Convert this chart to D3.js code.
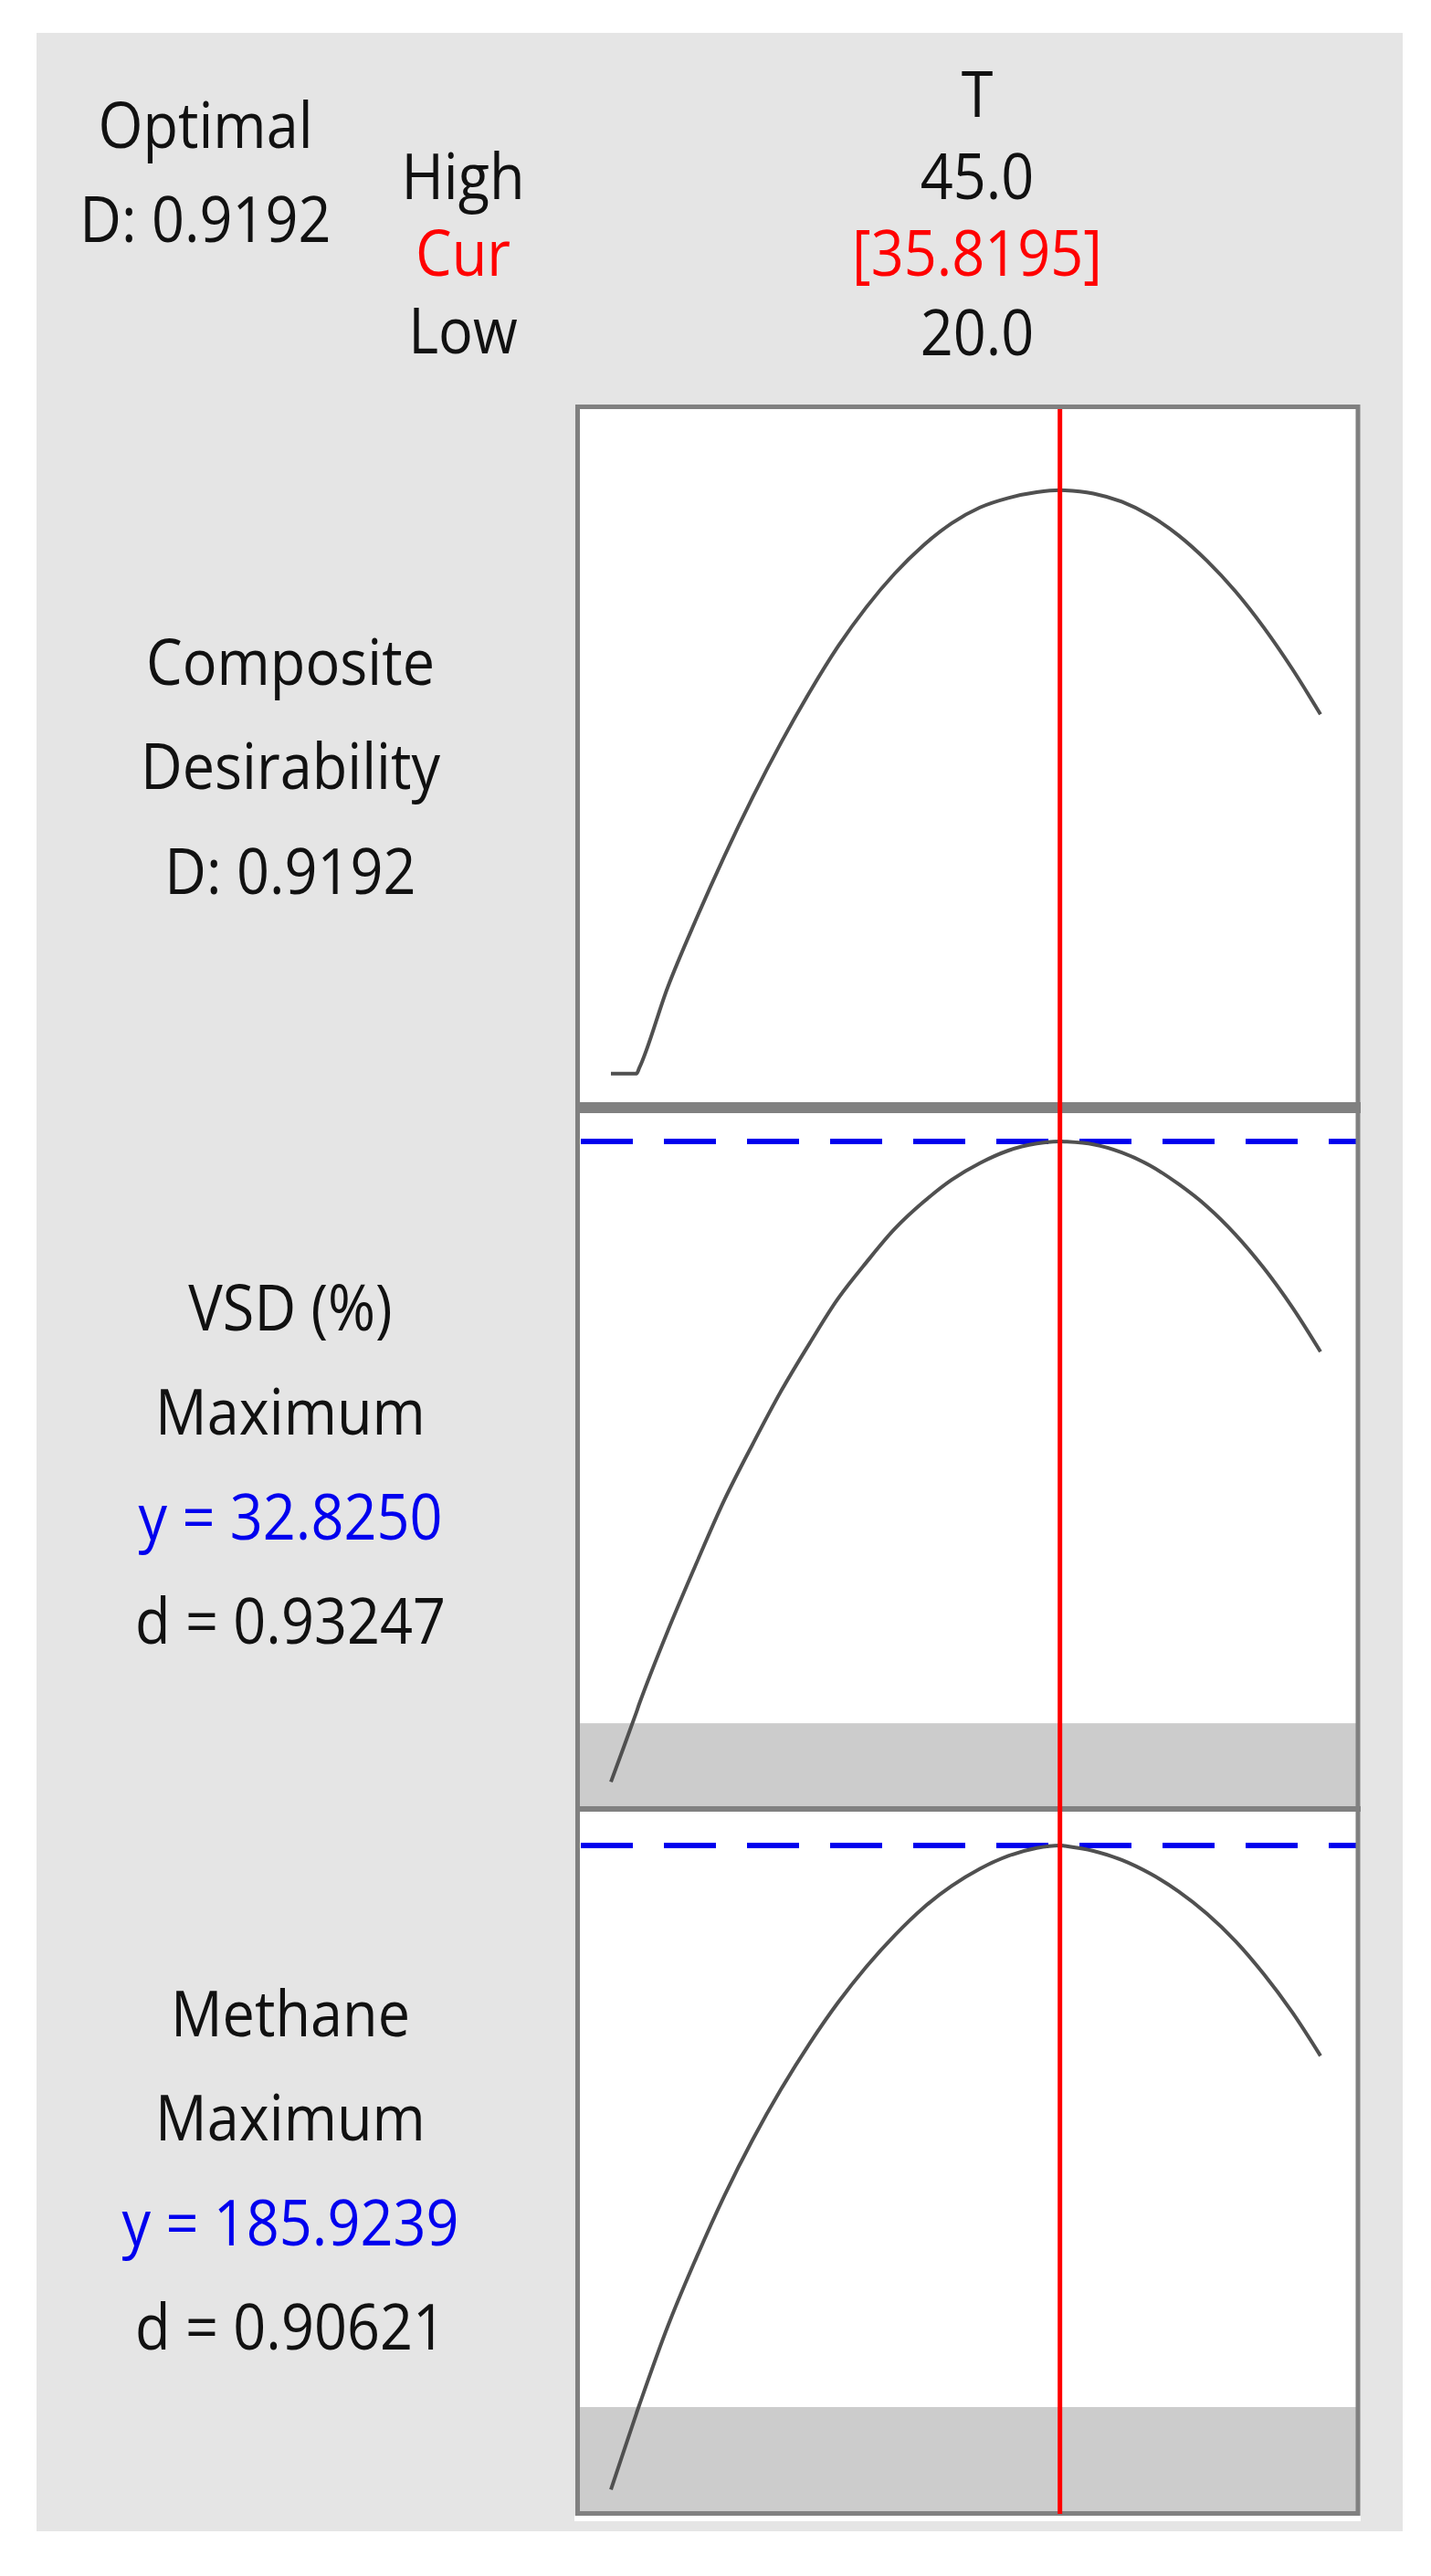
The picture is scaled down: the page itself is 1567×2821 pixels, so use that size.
<!DOCTYPE html>
<html>
<head>
<meta charset="utf-8">
<script src="https://cdn.jsdelivr.net/npm/d3@7"></script>
<style>
  html, body { margin: 0; padding: 0; background: #fff; }
  svg { display: block; }
</style>
</head>
<body>
<svg id="chart" width="1567" height="2821"></svg>
<script>
'use strict';

// factor settings
var factorName = 'T';
var factorHigh = 45.0;
var factorLow = 20.0;
var factorCur = 35.8195;
var optimalD = 0.9192;

var tValues = [20, 20.9, 21, 22, 23, 24, 25, 26, 27, 28, 29, 30, 31, 32, 33, 34, 35,
    35.8195, 36, 37, 38, 39, 40, 41, 42, 43, 44, 45];

var compositeD = [0, 0, 0.009, 0.136, 0.243, 0.343, 0.436, 0.522, 0.601, 0.673, 0.735,
    0.788, 0.832, 0.867, 0.892, 0.907, 0.916, 0.9192, 0.919, 0.914, 0.901, 0.879, 0.848,
    0.808, 0.760, 0.703, 0.638, 0.566];

var vsd = [9.9, 12.4, 12.7, 15.3, 17.7, 20.0, 22.0, 23.9, 25.6, 27.2, 28.5, 29.7, 30.65,
    31.45, 32.05, 32.5, 32.75, 32.825, 32.82, 32.72, 32.43, 31.96, 31.3, 30.5, 29.5, 28.3,
    26.9, 25.3];

var methane = [30.0, 48.5, 50.5, 69.5, 86.0, 101.2, 114.8, 127.0, 138.0, 147.9, 156.6,
    164.2, 170.8, 176.1, 180.3, 183.4, 185.3, 185.9239, 185.8, 184.6, 182.4, 179.1, 174.8,
    169.4, 162.8, 154.8, 145.6, 135.0];

// one entry per row of the optimization plot
var rowTitles = [['Composite', 'Desirability'], ['VSD (%)', 'Maximum'], ['Methane', 'Maximum']];
var rowSeries = [compositeD, vsd, methane];
var rowPredicted = [null, 32.8250, 185.9239];
var rowDesirability = [0.9192, 0.93247, 0.90621];
var rowLowerBound = [null, 12, 50];
var rowDomains = [[-0.045, 1.047], [9.03, 33.84], [24.8, 194.1]];

var fontFamily = '"Open Sans", "Noto Sans", sans-serif';
var fontSize = 63;
var stretchY = 1.1;

var svg = d3.select('#chart');

var plotLeft = 634,
    plotRight = 1485,
    panels = [
        {top: 448, bottom: 1207, firstLine: 750},
        {top: 1219, bottom: 1978, firstLine: 1457},
        {top: 1984, bottom: 2750, firstLine: 2230}
    ],
    lineGap = 114.3,
    labelX = 318;

var x = d3.scaleLinear()
    .domain([factorLow, factorHigh])
    .range([669, 1446]);

svg.append('rect')
    .attr('x', 40)
    .attr('y', 36)
    .attr('width', 1496)
    .attr('height', 2736)
    .attr('fill', '#e5e5e5');

// little white sliver under the frame, as in the screenshot
svg.append('rect')
    .attr('x', 629)
    .attr('y', 2755)
    .attr('width', 861)
    .attr('height', 6)
    .attr('fill', '#fff');

function addText(g, str, tx, ty, color) {
    return g.append('text')
        .attr('transform', 'translate(' + tx + ',' + ty + ') scale(1,' + stretchY + ')')
        .attr('text-anchor', 'middle')
        .attr('font-family', fontFamily)
        .attr('font-size', fontSize)
        .attr('fill', color || '#111')
        .text(str);
}

var fmt1 = d3.format('.1f'),
    fmt4 = d3.format('.4f'),
    fmt5 = d3.format('.5f');

// header
var header = svg.append('g').attr('class', 'header');
addText(header, 'Optimal', 225, 162);
addText(header, 'D: ' + fmt4(optimalD), 225, 265);
addText(header, 'High', 507, 218);
addText(header, 'Cur', 507, 302, '#ff0000');
addText(header, 'Low', 507, 387);
addText(header, factorName, 1070, 128);
addText(header, fmt1(factorHigh), 1070, 218);
addText(header, '[' + fmt4(factorCur) + ']', 1070, 302, '#ff0000');
addText(header, fmt1(factorLow), 1070, 389);

var rows = svg.append('g').attr('class', 'rows');

panels.forEach(function(p, i) {
    var g = rows.append('g').attr('class', 'row row' + i);

    var y = d3.scaleLinear()
        .domain(rowDomains[i])
        .range([p.bottom, p.top]);

    g.append('rect')
        .attr('x', plotLeft)
        .attr('y', p.top)
        .attr('width', plotRight - plotLeft)
        .attr('height', p.bottom - p.top)
        .attr('fill', '#fff');

    // shaded region below the lower bound (d = 0)
    if(rowLowerBound[i] !== null) {
        g.append('rect')
            .attr('x', plotLeft)
            .attr('y', y(rowLowerBound[i]))
            .attr('width', plotRight - plotLeft)
            .attr('height', p.bottom - y(rowLowerBound[i]))
            .attr('fill', '#cccccc');
    }

    if(rowPredicted[i] !== null) {
        g.append('line')
            .attr('x1', plotLeft)
            .attr('x2', plotRight)
            .attr('y1', y(rowPredicted[i]))
            .attr('y2', y(rowPredicted[i]))
            .attr('stroke', '#0000ee')
            .attr('stroke-width', 6)
            .attr('stroke-dasharray', '57,34')
            .attr('stroke-dashoffset', 89);
    }

    // the composite curve has a flat start, keep it monotone so it doesn't dip
    var series = rowSeries[i];
    var line = d3.line()
        .x(function(d, k) { return x(tValues[k]); })
        .y(function(d) { return y(d); })
        .curve(i === 0 ? d3.curveMonotoneX : d3.curveCatmullRom.alpha(0.5));

    g.append('path')
        .datum(series)
        .attr('d', line)
        .attr('fill', 'none')
        .attr('stroke', '#505050')
        .attr('stroke-width', 4);

    // labels on the left
    var lines = rowTitles[i].slice();
    var colors = ['#111', '#111'];
    if(rowPredicted[i] !== null) {
        lines.push('y = ' + fmt4(rowPredicted[i]));
        colors.push('#0000ee');
        lines.push('d = ' + fmt5(rowDesirability[i]));
        colors.push('#111');
    }
    else {
        lines.push('D: ' + fmt4(rowDesirability[i]));
        colors.push('#111');
    }
    lines.forEach(function(str, k) {
        addText(g, str, labelX, p.firstLine + k * lineGap, colors[k]);
    });
});

// frame and row separators
var frame = svg.append('g').attr('class', 'frame');
frame.append('rect')
    .attr('x', 632.5)
    .attr('y', 445.5)
    .attr('width', 854.5)
    .attr('height', 2307)
    .attr('fill', 'none')
    .attr('stroke', '#808080')
    .attr('stroke-width', 5);

frame.append('line')
    .attr('x1', 630).attr('x2', 1490)
    .attr('y1', 1213).attr('y2', 1213)
    .attr('stroke', '#808080')
    .attr('stroke-width', 12);

frame.append('line')
    .attr('x1', 630).attr('x2', 1490)
    .attr('y1', 1981).attr('y2', 1981)
    .attr('stroke', '#808080')
    .attr('stroke-width', 6);

// current setting
svg.append('line')
    .attr('x1', x(factorCur))
    .attr('x2', x(factorCur))
    .attr('y1', 448)
    .attr('y2', 2753)
    .attr('stroke', '#ff0000')
    .attr('stroke-width', 5);
</script>
</body>
</html>
